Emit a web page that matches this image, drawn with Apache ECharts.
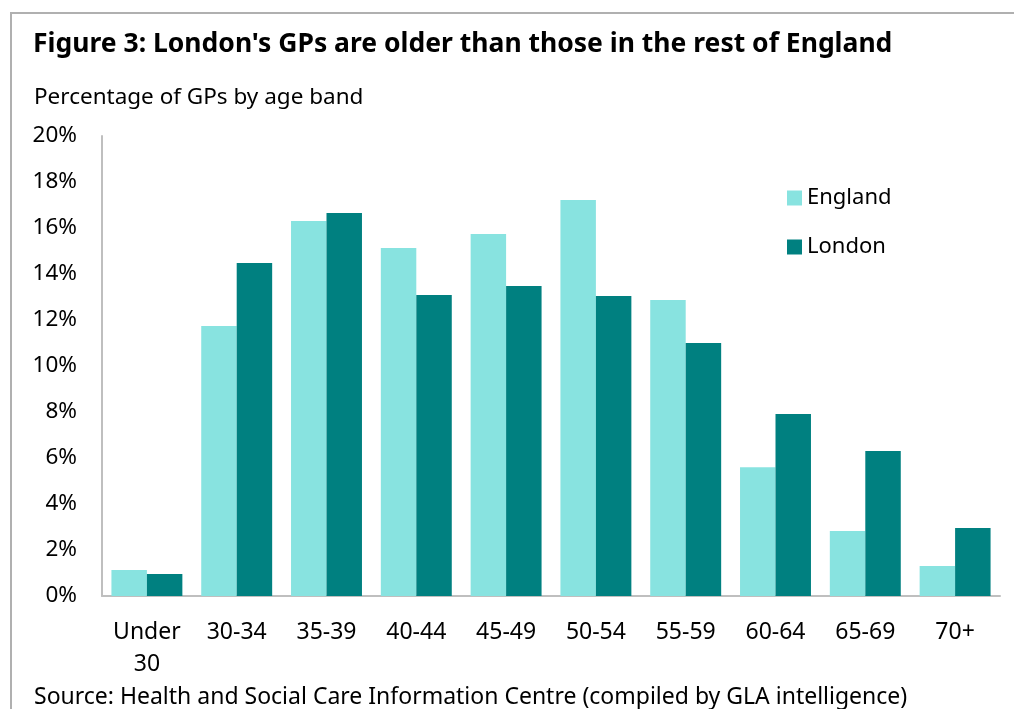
<!DOCTYPE html>
<html><head><meta charset="utf-8">
<script src="https://cdn.jsdelivr.net/npm/echarts@6/dist/echarts.min.js"></script>
<style>
html,body{margin:0;padding:0;background:#fff;}
#frame{position:absolute;left:10px;top:12px;width:1100px;height:800px;border:2px solid #b0b0b0;box-sizing:border-box;}
#c{position:absolute;left:0;top:0;width:1014px;height:709px;}
</style></head>
<body>
<div id="frame"></div>
<div id="c"></div>
<script>
const categories = ['Under\n30','30-34','35-39','40-44','45-49','50-54','55-59','60-64','65-69','70+'];
const england = [1.13, 11.74, 16.3, 15.13, 15.74, 17.22, 12.87, 5.6, 2.83, 1.3];
const london  = [0.96, 14.48, 16.65, 13.09, 13.48, 13.04, 11.0, 7.91, 6.3, 2.96];
const titleText = "Figure 3: London's GPs are older than those in the rest of England";
const subtitleText = 'Percentage of GPs by age band';
const sourceText = 'Source: Health and Social Care Information Centre (compiled by GLA intelligence)';

const font = 'Noto Sans';
const chart = echarts.init(document.getElementById('c'));
chart.setOption({
  animation: false,
  backgroundColor: 'transparent',
  title: [
    {text: titleText, left: 28, top: 26, textStyle: {fontFamily: font, fontWeight: 'bold', fontSize: 26.5, color: '#000'}},
    {text: subtitleText, left: 29, top: 81, textStyle: {fontFamily: font, fontWeight: 'normal', fontSize: 22.5, color: '#000'}},
    {text: sourceText, left: 29, top: 681, textStyle: {fontFamily: font, fontWeight: 'normal', fontSize: 23, color: '#000'}}
  ],
  legend: {
    orient: 'vertical', left: 782, top: 182, itemGap: 27, itemWidth: 15, itemHeight: 15,
    icon: 'rect',
    textStyle: {fontFamily: font, fontSize: 22, color: '#000'},
    data: ['England','London']
  },
  grid: {left: 102, right: 14, top: 136, bottom: 113, containLabel: false},
  xAxis: {
    type: 'category', data: categories,
    axisLine: {lineStyle: {color: '#bfbfbf', width: 2}},
    axisTick: {show: false},
    axisLabel: {fontFamily: font, fontSize: 23, color: '#000', margin: 20, lineHeight: 32}
  },
  yAxis: {
    type: 'value', min: 0, max: 20, interval: 2,
    axisLine: {show: true, lineStyle: {color: '#bfbfbf', width: 2}},
    axisTick: {show: false},
    splitLine: {show: false},
    axisLabel: {fontFamily: font, fontSize: 22.5, color: '#000', margin: 25, formatter: v => v + '%'}
  },
  series: [
    {name: 'England', type: 'bar', data: england, barGap: '0%', barCategoryGap: '21%', itemStyle: {color: '#88e3e0'}},
    {name: 'London', type: 'bar', data: london, barGap: '0%', barCategoryGap: '21%', itemStyle: {color: '#008080'}}
  ]
});
</script>
</body></html>
